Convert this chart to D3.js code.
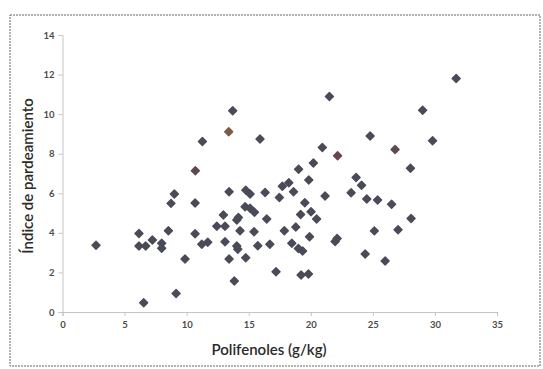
<!DOCTYPE html>
<html>
<head>
<meta charset="utf-8">
<script src="https://cdn.jsdelivr.net/npm/d3@7"></script>
<style>
  html, body { margin: 0; padding: 0; background: #fff; }
  .tick text { font-family: "Lato", "Open Sans", sans-serif; font-size: 9.5px; font-weight: 700; fill: #4a4a4a; }
  .axisTitle { font-family: "Lato", "Open Sans", sans-serif; font-size: 15px; font-weight: 600; fill: #2a2a2a; }
</style>
</head>
<body>
<svg id="chart" width="543" height="369"></svg>
<script>
// Polifenoles (g/kg) vs indice de pardeamiento
const polifenoles = [
  2.7, 6.16, 6.16, 6.7, 6.54, 7.24, 7.99, 7.99, 8.53, 8.74,
  9.01, 9.15, 9.87, 10.68, 10.68, 10.7, 11.27, 11.22, 11.7, 12.43,
  12.96, 13.09, 13.09, 13.42, 13.39, 13.42, 13.71, 13.84, 14.17, 14.04,
  14.04, 14.12, 14.3, 14.76, 15.11, 14.71, 15.11, 15.46, 14.76, 15.43,
  15.73, 15.91, 16.32, 16.45, 16.7, 17.2, 17.47, 17.71, 18.23, 17.87,
  18.79, 18.61, 18.47, 19.0, 19.34, 19.02, 19.18, 19.22, 19.81, 19.9,
  19.52, 19.84, 20.02, 20.47, 20.21, 20.93, 21.15, 21.5, 21.96, 22.12,
  22.16, 23.25, 23.65, 24.09, 24.51, 24.38, 24.78, 25.38, 25.12, 25.99,
  26.51, 26.79, 27.03, 28.03, 28.08, 29.01, 29.81, 31.71
]
const pardeamiento = [
  3.37, 3.97, 3.33, 3.33, 0.47, 3.64, 3.47, 3.22, 4.11, 5.49,
  5.96, 0.94, 2.68, 5.51, 3.96, 7.14, 8.62, 3.43, 3.52, 4.34,
  4.9, 4.34, 3.55, 6.08, 9.11, 2.68, 10.17, 1.57, 4.78, 4.65,
  3.33, 3.17, 4.11, 6.16, 5.96, 5.32, 5.24, 5.04, 2.74, 4.06,
  3.35, 8.74, 6.04, 4.7, 3.43, 2.04, 5.79, 6.36, 6.53, 4.11,
  4.29, 6.08, 3.48, 3.21, 3.08, 7.21, 4.93, 1.87, 1.92, 3.8,
  5.52, 6.67, 5.07, 4.7, 7.53, 8.31, 5.86, 10.89, 3.56, 3.71,
  7.9, 6.03, 6.8, 6.41, 5.71, 2.93, 8.9, 5.66, 4.1, 2.58,
  5.45, 8.21, 4.16, 7.27, 4.73, 10.2, 8.66, 11.8
]
const xTicks = [0, 5, 10, 15, 20, 25, 30, 35]
const yTicks = [0, 2, 4, 6, 8, 10, 12, 14]

// a few markers came out slightly tinted in the scan
const tinted = {15: "#5e4a4c", 24: "#7a5a48", 70: "#6a4450", 81: "#5e4a50"}

const margin = {top: 35, right: 46, bottom: 57, left: 62.5},
    width = 543 - margin.left - margin.right,
    height = 369 - margin.top - margin.bottom

const svg = d3.select("#chart")

// outer frame of the figure
svg.append("rect")
    .attr("x", 10).attr("y", 15)
    .attr("width", 530).attr("height", 351)
    .attr("fill", "none")
    .attr("stroke", "#666")
    .attr("stroke-width", 1)
    .attr("stroke-dasharray", "2,1")

const g = svg.append("g")
    .attr("transform", "translate(" + margin.left + "," + margin.top + ")")

const fx = d3.scaleLinear().domain([0, 35]).range([0, width])
const fy = d3.scaleLinear().domain([0, 14]).range([height, 0])

const xAxis = g.append("g")
    .attr("transform", "translate(0," + height + ")")
    .call(d3.axisBottom(fx).tickValues(xTicks).tickSize(4).tickPadding(5))
const yAxis = g.append("g")
    .call(d3.axisLeft(fy).tickValues(yTicks).tickSize(4).tickPadding(4))

;[xAxis, yAxis].forEach(a => {
    a.select(".domain").attr("stroke", "#c4c4c4")
    a.selectAll(".tick line").attr("stroke", "#c4c4c4")
})

const marker = d3.symbol().type(d3.symbolSquare).size(32)

g.selectAll("path.pt")
    .data(polifenoles.map((x, i) => ({x: x, y: pardeamiento[i], i: i})))
    .join("path")
    .attr("class", "pt")
    .attr("d", marker)
    .attr("transform", d => "translate(" + fx(d.x) + "," + fy(d.y) + ") rotate(45)")
    .attr("fill", d => tinted[d.i] || "#4a4b58")
    .attr("stroke", d => tinted[d.i] || "#4a4b58")
    .attr("stroke-width", 1.4)
    .attr("stroke-linejoin", "round")

svg.append("text")
    .attr("class", "axisTitle")
    .attr("x", 269)
    .attr("y", 355)
    .attr("text-anchor", "middle")
    .text("Polifenoles (g/kg)")

svg.append("text")
    .attr("class", "axisTitle")
    .attr("transform", "translate(33,176) rotate(-90)")
    .attr("text-anchor", "middle")
    .text("Índice de pardeamiento")
</script>
</body>
</html>
